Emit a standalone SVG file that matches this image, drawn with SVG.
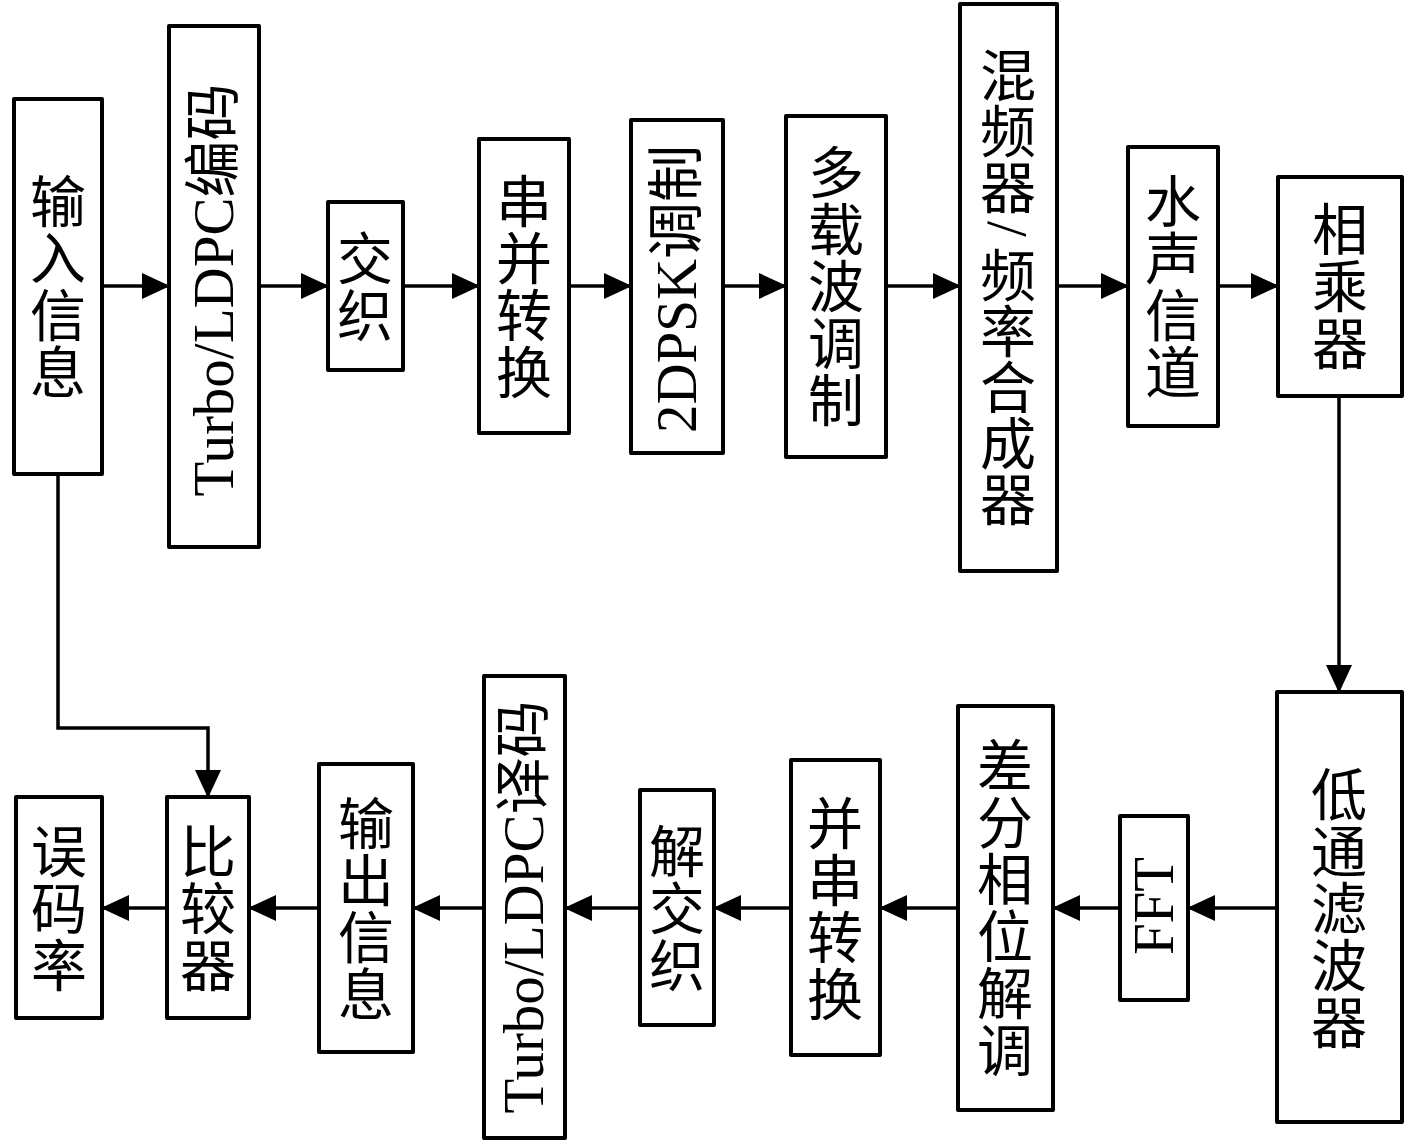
<svg xmlns="http://www.w3.org/2000/svg" width="1417" height="1141" viewBox="0 0 1417 1141">
<style>
.box{fill:#fff;stroke:#000;stroke-width:4;stroke-linejoin:round}
.t{font-family:"Liberation Serif","Noto Sans CJK SC",serif;font-size:56px;fill:#000;text-anchor:middle}
.r{font-family:"Liberation Serif","Noto Sans CJK SC",serif;font-size:57px;fill:#000;text-anchor:middle}
.ln{fill:none;stroke:#000;stroke-width:3.5}
</style>
<defs>
<marker id="ah" markerUnits="userSpaceOnUse" markerWidth="28" markerHeight="26" viewBox="0 0 28 26" refX="27" refY="13" orient="auto">
<path d="M0,0 L28,13 L0,26 z" fill="#000"/>
</marker>
</defs>
<rect width="1417" height="1141" fill="#fff"/>
<g id="connectors">
<line class="ln" x1="102" y1="286" x2="169" y2="286" marker-end="url(#ah)"/>
<line class="ln" x1="259" y1="286" x2="328" y2="286" marker-end="url(#ah)"/>
<line class="ln" x1="403" y1="286" x2="479" y2="286" marker-end="url(#ah)"/>
<line class="ln" x1="569" y1="286" x2="631" y2="286" marker-end="url(#ah)"/>
<line class="ln" x1="723" y1="286" x2="786" y2="286" marker-end="url(#ah)"/>
<line class="ln" x1="886" y1="286" x2="960" y2="286" marker-end="url(#ah)"/>
<line class="ln" x1="1057" y1="286" x2="1128" y2="286" marker-end="url(#ah)"/>
<line class="ln" x1="1218" y1="286" x2="1278" y2="286" marker-end="url(#ah)"/>
<line class="ln" x1="1339" y1="396" x2="1339" y2="692" marker-end="url(#ah)"/>
<line class="ln" x1="1277" y1="908" x2="1188" y2="908" marker-end="url(#ah)"/>
<line class="ln" x1="1120" y1="908" x2="1053" y2="908" marker-end="url(#ah)"/>
<line class="ln" x1="958" y1="908" x2="880" y2="908" marker-end="url(#ah)"/>
<line class="ln" x1="791" y1="908" x2="714" y2="908" marker-end="url(#ah)"/>
<line class="ln" x1="640" y1="908" x2="565" y2="908" marker-end="url(#ah)"/>
<line class="ln" x1="484" y1="908" x2="413" y2="908" marker-end="url(#ah)"/>
<line class="ln" x1="319" y1="908" x2="249" y2="908" marker-end="url(#ah)"/>
<line class="ln" x1="167" y1="908" x2="102" y2="908" marker-end="url(#ah)"/>
<path class="ln" d="M58,474 V728 H208 V797" marker-end="url(#ah)"/>
</g>
<g id="n1"><rect class="box" x="14" y="99" width="88" height="375"/>
<text class="t"><tspan x="58" y="222">输</tspan><tspan x="58" y="279">入</tspan><tspan x="58" y="336">信</tspan><tspan x="58" y="393">息</tspan></text></g>
<g id="n2"><rect class="box" x="169" y="26" width="90" height="521"/>
<text class="r" transform="translate(233,290) rotate(-90)">Turbo/LDPC编码</text></g>
<g id="n3"><rect class="box" x="328" y="202" width="75" height="168"/>
<text class="t"><tspan x="365" y="279">交</tspan><tspan x="365" y="336">织</tspan></text></g>
<g id="n4"><rect class="box" x="479" y="139" width="90" height="294"/>
<text class="t"><tspan x="524" y="222">串</tspan><tspan x="524" y="279">并</tspan><tspan x="524" y="336">转</tspan><tspan x="524" y="393">换</tspan></text></g>
<g id="n5"><rect class="box" x="631" y="120" width="92" height="333"/>
<text class="r" transform="translate(696,289) rotate(-90)">2DPSK调制</text></g>
<g id="n6"><rect class="box" x="786" y="116" width="100" height="341"/>
<text class="t"><tspan x="836" y="193">多</tspan><tspan x="836" y="250">载</tspan><tspan x="836" y="307">波</tspan><tspan x="836" y="364">调</tspan><tspan x="836" y="421">制</tspan></text></g>
<g id="n7"><rect class="box" x="960" y="4" width="97" height="567"/>
<text class="t"><tspan x="1008" y="96">混</tspan><tspan x="1008" y="152">频</tspan><tspan x="1008" y="208">器</tspan><tspan x="1008" y="296">频</tspan><tspan x="1008" y="352">率</tspan><tspan x="1008" y="408">合</tspan><tspan x="1008" y="464">成</tspan><tspan x="1008" y="520">器</tspan></text>
<text class="r" transform="translate(988,229) rotate(90)">/</text></g>
<g id="n8"><rect class="box" x="1128" y="147" width="90" height="279"/>
<text class="t"><tspan x="1173" y="222">水</tspan><tspan x="1173" y="279">声</tspan><tspan x="1173" y="336">信</tspan><tspan x="1173" y="393">道</tspan></text></g>
<g id="n9"><rect class="box" x="1278" y="177" width="124" height="219"/>
<text class="t"><tspan x="1340" y="250">相</tspan><tspan x="1340" y="307">乘</tspan><tspan x="1340" y="364">器</tspan></text></g>
<g id="n10"><rect class="box" x="1277" y="692" width="125" height="430"/>
<text class="t"><tspan x="1339" y="815">低</tspan><tspan x="1339" y="872">通</tspan><tspan x="1339" y="929">滤</tspan><tspan x="1339" y="986">波</tspan><tspan x="1339" y="1043">器</tspan></text></g>
<g id="n11"><rect class="box" x="1120" y="816" width="68" height="184"/>
<text class="r" transform="translate(1173,906) rotate(-90)">FFT</text></g>
<g id="n12"><rect class="box" x="958" y="706" width="95" height="404"/>
<text class="t"><tspan x="1005" y="786">差</tspan><tspan x="1005" y="843">分</tspan><tspan x="1005" y="900">相</tspan><tspan x="1005" y="957">位</tspan><tspan x="1005" y="1014">解</tspan><tspan x="1005" y="1071">调</tspan></text></g>
<g id="n13"><rect class="box" x="791" y="760" width="89" height="295"/>
<text class="t"><tspan x="835" y="844">并</tspan><tspan x="835" y="901">串</tspan><tspan x="835" y="958">转</tspan><tspan x="835" y="1015">换</tspan></text></g>
<g id="n14"><rect class="box" x="640" y="790" width="74" height="235"/>
<text class="t"><tspan x="677" y="872">解</tspan><tspan x="677" y="929">交</tspan><tspan x="677" y="986">织</tspan></text></g>
<g id="n15"><rect class="box" x="484" y="676" width="81" height="462"/>
<text class="r" transform="translate(543,907) rotate(-90)">Turbo/LDPC译码</text></g>
<g id="n16"><rect class="box" x="319" y="764" width="94" height="288"/>
<text class="t"><tspan x="366" y="844">输</tspan><tspan x="366" y="901">出</tspan><tspan x="366" y="958">信</tspan><tspan x="366" y="1015">息</tspan></text></g>
<g id="n17"><rect class="box" x="167" y="797" width="82" height="221"/>
<text class="t"><tspan x="208" y="872">比</tspan><tspan x="208" y="929">较</tspan><tspan x="208" y="986">器</tspan></text></g>
<g id="n18"><rect class="box" x="16" y="797" width="86" height="221"/>
<text class="t"><tspan x="59" y="872">误</tspan><tspan x="59" y="929">码</tspan><tspan x="59" y="986">率</tspan></text></g>
</svg>
